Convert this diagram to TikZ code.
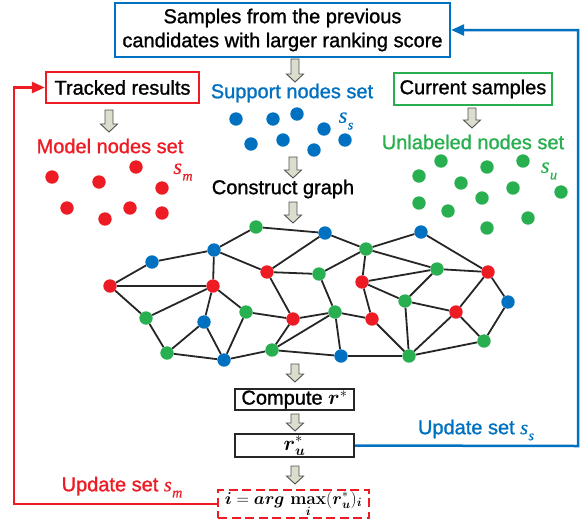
\documentclass[tikz,border=0pt]{standalone}
\usepackage{amsmath}
\usepackage[no-math]{fontspec}
\setmainfont{Liberation Sans}[FakeBold=1.2]
\newfontfamily\serifit{Liberation Serif}[FakeBold=0.6]
\usetikzlibrary{arrows.meta}
\definecolor{cred}{RGB}{237,28,36}
\definecolor{cblue}{RGB}{0,112,192}
\definecolor{cgreen}{RGB}{40,175,80}
\definecolor{afill}{RGB}{218,222,204}
\definecolor{aline}{RGB}{80,80,80}
\newcommand\garrow[3]{\draw[garrowst] (#1-4,#2) -- (#1+4,#2) -- (#1+4,#3-8) -- (#1+8.5,#3-8) -- (#1,#3) -- (#1-8.5,#3-8) -- (#1-4,#3-8) -- cycle;}
\newcommand\bsy[1]{\boldsymbol{#1}}
\newcommand\svar[1]{{\serifit\itshape s\kern0.5pt\raisebox{-0.3em}{\fontsize{14}{14}\selectfont #1}}}
\begin{document}
\begin{tikzpicture}[x=1pt,y=-1pt,
  garrowst/.style={fill=afill,draw=aline,line width=0.9pt,line join=miter},
  txt/.style={inner sep=0pt,font=\fontsize{20}{24}\selectfont},
  boxst/.style={draw,line width=2.3pt,inner sep=0pt,font=\fontsize{20}{24}\selectfont},
  dot/.style={circle,inner sep=0pt,minimum size=13.4pt,draw=none},
  edge/.style={line width=1.8pt,draw=black!85},
  conn/.style={line width=2.5pt,line join=miter},
  tip/.style={-{Triangle[length=13pt,width=11pt]}},
  slab/.style={inner sep=0pt,font=\fontsize{22}{24}\selectfont}
]
\useasboundingbox (0,0) rectangle (581,523);

% boxes
\node[boxst,draw=cblue,minimum width=335pt,minimum height=54pt,align=center] (top) at (282.5,30)
  {Samples from the previous\\candidates with larger ranking score};
\node[boxst,draw=cred,minimum width=153pt,minimum height=31pt] (track) at (122.5,87.5) {Tracked results};
\node[boxst,draw=cgreen,minimum width=158pt,minimum height=32pt] (cur) at (473,89) {Current samples};
\node[boxst,draw=black!85,line width=2pt,minimum width=119pt,minimum height=21pt] (comp) at (294.5,399.5) {Compute $\bsy{r}^*$};
\node[boxst,draw=black!85,line width=2pt,minimum width=119pt,minimum height=23pt] (ru) at (294.5,445.5) {$\bsy{r}_{\bsy{u}}^*$};
\node[boxst,draw=cred,line width=2.6pt,dash pattern=on 9pt off 4.5pt,minimum width=151pt,minimum height=28pt,font=\fontsize{18.5}{20}\selectfont] (amax) at (293.5,504) {$\bsy{i} = \bsy{arg}\,\mathop{\mathbf{max}}\limits_{\bsy{i}}(\bsy{r}_{\bsy{u}}^*)_{\bsy{i}}$};

% texts
\node[txt,text=cred] (mtxt) at (110,146) {Model nodes set};
\node[txt,text=cblue] (stxt) at (292,93) {Support nodes set};
\node[txt,text=cgreen] (utxt) at (473,142) {Unlabeled nodes set};
\node[txt] (cg) at (283,189) {Construct graph};
\node[txt,text=cred] (upm) at (122,487) {Update set \svar{m}};
\node[txt,text=cblue] (ups) at (476,430) {Update set \svar{s}};
\node[slab,text=cred] (lsm) at (183,172) {\svar{m}};
\node[slab,text=cblue] (lss) at (346,121) {\svar{s}};
\node[slab,text=cgreen] (lsu) at (549,171) {\svar{u}};

% block arrows
\garrow{295}{59}{82}
\garrow{109}{110}{132}
\garrow{472}{108}{128}
\garrow{293}{157}{178}
\garrow{293}{202}{223}
\garrow{295}{364}{382}
\garrow{295}{414}{431}
\garrow{295}{466}{484}

% scattered dots
\foreach \x/\y [count=\i] in {52/177,99/182,136/167,162/188,67/208,105/219,130/208,162/213}
  \node[dot,fill=cred] (r\i) at (\x,\y) {};
\foreach \x/\y [count=\i] in {236/119,273/119,297/114,324/129,251/144,283/140,314/150,345/140}
  \node[dot,fill=cblue] (b\i) at (\x,\y) {};
\foreach \x/\y [count=\i] in {441/161,487/167,523/161,419/176,461/183,513/188,561/192,419/203,482/198,448/211,528/218,487/228}
  \node[dot,fill=cgreen] (u\i) at (\x,\y) {};

% graph nodes
\foreach \x/\y/\c [count=\i] in {
  256/227/cgreen, 325/233/cblue, 366/249/cgreen, 421/232/cblue, 214/250/cblue,
  152/262/cblue, 267/272/cred, 319/274/cgreen, 437/269/cgreen, 488/272/cred,
  362/282/cred, 110/286/cred, 213/286/cred, 405/301/cgreen, 508/302/cblue,
  246/312/cgreen, 293/319/cred, 335/312/cgreen, 372/319/cred, 456/312/cred,
  146/318/cgreen, 204/322/cblue, 484/341/cgreen, 167/353/cgreen, 224/360/cblue,
  272/350/cgreen, 341/356/cblue, 409/356/cgreen}
  \node[dot,fill=\c] (g\i) at (\x,\y) {};

\foreach \a/\b in {1/2,1/5,2/3,2/7,3/4,3/8,3/9,3/11,4/10,5/6,5/7,5/13,6/12,12/13,12/21,
  13/21,13/22,13/16,7/8,7/17,8/18,9/11,9/14,9/10,11/14,11/19,10/20,10/15,14/20,14/28,
  15/23,20/23,20/28,16/17,16/25,17/18,17/26,18/19,18/26,18/27,19/28,21/24,22/24,22/25,
  24/25,25/26,26/27,27/28,28/23}
  \draw[edge] (g\a) -- (g\b);

% feedback connectors
\coordinate (rc) at (14,504);
\draw[conn,cred,tip] (amax.west) -- (rc) |- (track.west);
\coordinate (bc) at (578,446);
\draw[conn,cblue,tip] (ru.east) -- (bc) |- (top.east);
\end{tikzpicture}
\end{document}
